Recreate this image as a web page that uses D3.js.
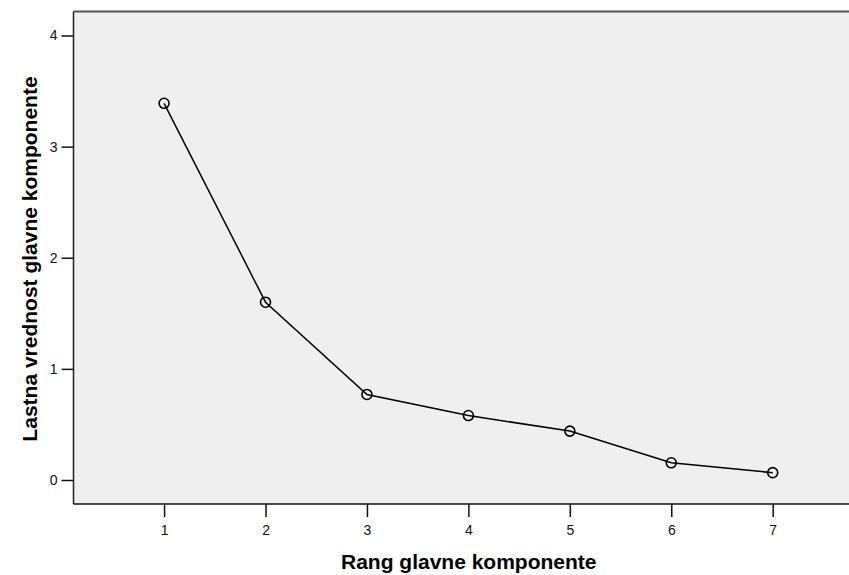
<!DOCTYPE html>
<html>
<head>
<meta charset="utf-8">
<script src="https://cdn.jsdelivr.net/npm/d3@7"></script>
<style>
  body { margin: 0; background: #fff; }
  svg { display: block; font-family: "Liberation Sans", Arial, sans-serif; }
</style>
</head>
<body>
<div id="chart"></div>
<script>
"use strict";

// Data
const ranks = [1, 2, 3, 4, 5, 6, 7];
const eigenvalues = [3.39, 1.60, 0.77, 0.58, 0.44, 0.155, 0.066];
const yTicks = [0, 1, 2, 3, 4];

const xTitle = "Rang glavne komponente";
const yTitle = "Lastna vrednost glavne komponente";

const W = 849, H = 575;
const plot = { left: 73.5, top: 11.5, bottom: 504, right: 864 };

const svg = d3.select("#chart")
  .append("svg")
    .attr("width", W)
    .attr("height", H);

const x = d3.scaleLinear()
    .domain([0.107, 7.9])
    .range([plot.left, plot.right]);

const y = d3.scaleLinear()
    .domain([0, 4])
    .range([480, 35.5]);

// Plot background
svg.append("rect")
    .attr("x", plot.left)
    .attr("y", plot.top)
    .attr("width", plot.right - plot.left)
    .attr("height", plot.bottom - plot.top)
    .attr("fill", "#efefef");

svg.append("line")
    .attr("x1", plot.left).attr("x2", plot.right)
    .attr("y1", plot.top).attr("y2", plot.top)
    .attr("stroke", "#555")
    .attr("stroke-width", 1.8);

// Axes
const xAxis = svg.append("g")
    .attr("transform", `translate(0,${plot.bottom})`)
    .call(d3.axisBottom(x).tickValues(ranks).tickSize(13).tickPadding(8).tickFormat(d3.format("d")));

const yAxis = svg.append("g")
    .attr("transform", `translate(${plot.left},0)`)
    .call(d3.axisLeft(y).tickValues(yTicks).tickSize(12).tickPadding(4).tickFormat(d3.format("d")));

[xAxis, yAxis].forEach(ax => {
    ax.select(".domain").remove();
    ax.selectAll(".tick line").attr("stroke", "#111").attr("stroke-width", 1.5);
    ax.selectAll(".tick text")
        .attr("fill", "#111")
        .style("font-size", "14px")
        .style("font-family", "'Liberation Sans', Arial, sans-serif");
});

// Axis lines
svg.append("line")
    .attr("x1", plot.left).attr("x2", plot.left)
    .attr("y1", plot.top).attr("y2", plot.bottom)
    .attr("stroke", "#222").attr("stroke-width", 1.5);

svg.append("line")
    .attr("x1", plot.left).attr("x2", plot.right)
    .attr("y1", plot.bottom).attr("y2", plot.bottom)
    .attr("stroke", "#111").attr("stroke-width", 1.5);

// Series
const data = ranks.map((r, i) => ({ r: r, v: eigenvalues[i] }));

const line = d3.line()
    .x(d => x(d.r))
    .y(d => y(d.v));

svg.append("path")
    .datum(data)
    .attr("d", line)
    .attr("fill", "none")
    .attr("stroke", "#000")
    .attr("stroke-width", 1.5);

svg.selectAll(".pt")
    .data(data)
  .enter()
  .append("circle")
    .attr("class", "pt")
    .attr("cx", d => x(d.r))
    .attr("cy", d => y(d.v))
    .attr("r", 5)
    .attr("fill", "none")
    .attr("stroke", "#000")
    .attr("stroke-width", 1.6);

// Titles, centred on the full plot area
svg.append("text")
    .attr("x", (plot.left + plot.right) / 2)
    .attr("y", 569)
    .attr("text-anchor", "middle")
    .style("font-size", "21px")
    .style("font-weight", "bold")
    .text(xTitle);

svg.append("text")
    .attr("transform", `translate(37,${259}) rotate(-90)`)
    .attr("text-anchor", "middle")
    .style("font-size", "21px")
    .style("font-weight", "bold")
    .text(yTitle);
</script>
</body>
</html>
